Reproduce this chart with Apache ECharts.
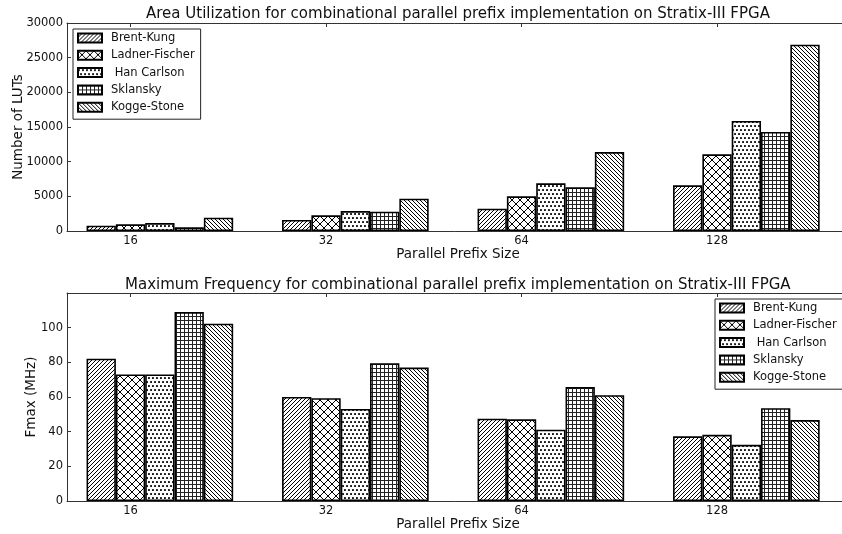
<!DOCTYPE html>
<html>
<head>
<meta charset="utf-8">
<title>Parallel prefix adders on Stratix-III</title>
<script src="https://cdn.jsdelivr.net/npm/echarts@6/dist/echarts.min.js"></script>
<style>
  html, body { margin: 0; padding: 0; background: #fff; }
  #chart { width: 842px; height: 534px; }
</style>
</head>
<body>
<div id="chart"></div>
<script>
// Parallel prefix sizes (x categories) and adder architectures (series)
const sizes = ['16', '32', '64', '128'];
const adders = ['Brent-Kung', 'Ladner-Fischer', 'Han Carlson', 'Sklansky', 'Kogge-Stone'];

// Area utilization, number of LUTs
const lutBrentKung     = [770, 1590, 3220, 6590];
const lutLadnerFischer = [960, 2260, 5000, 11060];
const lutHanCarlson    = [1150, 2880, 6870, 15870];
const lutSklansky      = [530, 2790, 6300, 14280];
const lutKoggeStone    = [1920, 4660, 11390, 26870];

// Maximum frequency, MHz
const fmaxBrentKung     = [82.1, 60.0, 47.5, 37.3];
const fmaxLadnerFischer = [73.0, 59.3, 47.1, 38.2];
const fmaxHanCarlson    = [73.0, 53.1, 41.1, 32.4];
const fmaxSklansky      = [109.0, 79.5, 65.8, 53.5];
const fmaxKoggeStone    = [102.3, 77.0, 61.0, 46.7];

const lutSeries  = [lutBrentKung, lutLadnerFischer, lutHanCarlson, lutSklansky, lutKoggeStone];
const fmaxSeries = [fmaxBrentKung, fmaxLadnerFischer, fmaxHanCarlson, fmaxSklansky, fmaxKoggeStone];

const FONT = 'DejaVu Sans';
const BAR_W = 0.15;                 // bar width in x units
const TICK_OFF = 1.5 * BAR_W;       // tick sits under the second bar of each group
const GROUP_MID = 2.5 * BAR_W;      // centre of the five-bar group

// ---- hatch fills -------------------------------------------------------
function tile(w, h, draw) {
  const c = document.createElement('canvas');
  c.width = w; c.height = h;
  const g = c.getContext('2d');
  g.fillStyle = '#fff';
  g.fillRect(0, 0, w, h);
  g.strokeStyle = '#000';
  g.fillStyle = '#000';
  draw(g, w, h);
  return { image: c, repeat: 'repeat' };
}
function diag(g, s, forward, lw) {
  g.lineWidth = lw;
  g.beginPath();
  for (let k = -1; k <= 1; k++) {
    if (forward) { g.moveTo(k * s, s); g.lineTo(k * s + s, 0); }
    else { g.moveTo(k * s, 0); g.lineTo(k * s + s, s); }
  }
  g.stroke();
}
const hatches = [
  tile(4, 4, g => diag(g, 4, true, 1)),                               // ////
  tile(8, 8, g => { diag(g, 8, true, 1); diag(g, 8, false, 1); }),    // xx
  tile(4, 8, g => {                                                   // oo
    [[1, 2], [3, 6]].forEach(([x, y]) => { g.beginPath(); g.arc(x, y, 1.05, 0, Math.PI * 2); g.fill(); });
  }),
  tile(4, 4, g => {                                                   // ++
    g.lineWidth = 1; g.strokeStyle = '#222';
    g.beginPath(); g.moveTo(0.5, 0); g.lineTo(0.5, 4); g.moveTo(0, 0.5); g.lineTo(4, 0.5); g.stroke();
  }),
  tile(4, 4, g => diag(g, 4, false, 1))                               // \\\\
];

// ---- axes ----------------------------------------------------------------
const tickPos = sizes.map((_, i) => i + TICK_OFF);
const labelStyle = { color: '#111', fontSize: 11.5, fontFamily: FONT };
const nameStyle = { color: '#111', fontSize: 13.5, fontFamily: FONT };
const lineStyle = { color: '#333', width: 1 };

function xBottom(gridIndex) {
  return {
    type: 'value', gridIndex, min: -0.1, max: 3.9, position: 'bottom',
    axisLine: { show: true, onZero: false, lineStyle },
    axisTick: { show: true, inside: true, length: 4, customValues: tickPos, lineStyle },
    axisLabel: { show: true, customValues: tickPos, margin: 4, ...labelStyle,
      formatter: v => sizes[Math.round(v - TICK_OFF)] },
    splitLine: { show: false },
    name: 'Parallel Prefix Size', nameLocation: 'middle', nameGap: 14, nameTextStyle: nameStyle
  };
}
function xTop(gridIndex) {
  return {
    type: 'value', gridIndex, min: -0.1, max: 3.9, position: 'top',
    axisLine: { show: true, onZero: false, lineStyle },
    axisTick: { show: true, inside: true, length: 4, customValues: tickPos, lineStyle },
    axisLabel: { show: false },
    splitLine: { show: false }
  };
}
function yLeft(gridIndex, max, interval, name, gap, showMax) {
  return {
    type: 'value', gridIndex, min: 0, max, interval, position: 'left',
    axisLine: { show: true, onZero: false, lineStyle },
    axisTick: { show: true, inside: true, length: 4, lineStyle },
    axisLabel: { margin: 4, showMaxLabel: showMax, ...labelStyle, formatter: v => String(v) },
    splitLine: { show: false },
    name, nameLocation: 'middle', nameRotate: 90, nameGap: gap, nameMoveOverlap: false,
    nameTextStyle: nameStyle
  };
}

function legendAt(left, top) {
  return {
    data: adders, orient: 'vertical', left, top, icon: 'rect',
    itemWidth: 24, itemHeight: 9, itemGap: 3.3, padding: [2, 6, 5, 4],
    borderColor: '#222', borderWidth: 1, borderRadius: 0, backgroundColor: '#fff',
    selectedMode: false,
    textStyle: { color: '#111', fontSize: 11.5, fontFamily: FONT, lineHeight: 14, padding: [0, 0, 0, 4] },
    formatter: n => (n === 'Han Carlson' ? ' ' + n : n)
  };
}

function barsFor(valueLists, xAxisIndex, yAxisIndex) {
  return valueLists.map((vals, k) => ({
    type: 'bar', name: adders[k], xAxisIndex, yAxisIndex,
    barWidth: (BAR_W * 100) + '%', barGap: '0%',
    data: vals.map((v, i) => [i + GROUP_MID, v]),
    itemStyle: { color: hatches[k], borderColor: '#000', borderWidth: 1.6 },
    emphasis: { disabled: true },
    animation: false
  }));
}

const titleStyle = { color: '#111', fontSize: 15, fontWeight: 'normal', fontFamily: FONT };

const chart = echarts.init(document.getElementById('chart'), null, { renderer: 'canvas' });
chart.setOption({
  backgroundColor: '#fff',
  animation: false,
  title: [
    { text: 'Area Utilization for combinational parallel prefix implementation on Stratix-III FPGA',
      left: 146, top: 7, padding: 0, textStyle: titleStyle },
    { text: 'Maximum Frequency for combinational parallel prefix implementation on Stratix-III FPGA',
      left: 125, top: 278, padding: 0, textStyle: titleStyle }
  ],
  grid: [
    { left: 67, top: 23, width: 782, height: 208, outerBoundsMode: 'none', containLabel: false },
    { left: 67, top: 293, width: 782, height: 208, outerBoundsMode: 'none', containLabel: false }
  ],
  xAxis: [xBottom(0), xTop(0), xBottom(1), xTop(1)],
  yAxis: [
    yLeft(0, 30000, 5000, 'Number of LUTs', 42, true),
    yLeft(1, 120, 20, 'Fmax (MHz)', 29, false)
  ],
  legend: [legendAt(73, 29), legendAt(715, 299)],
  series: [...barsFor(lutSeries, 0, 0), ...barsFor(fmaxSeries, 2, 1)]
});
</script>
</body>
</html>
